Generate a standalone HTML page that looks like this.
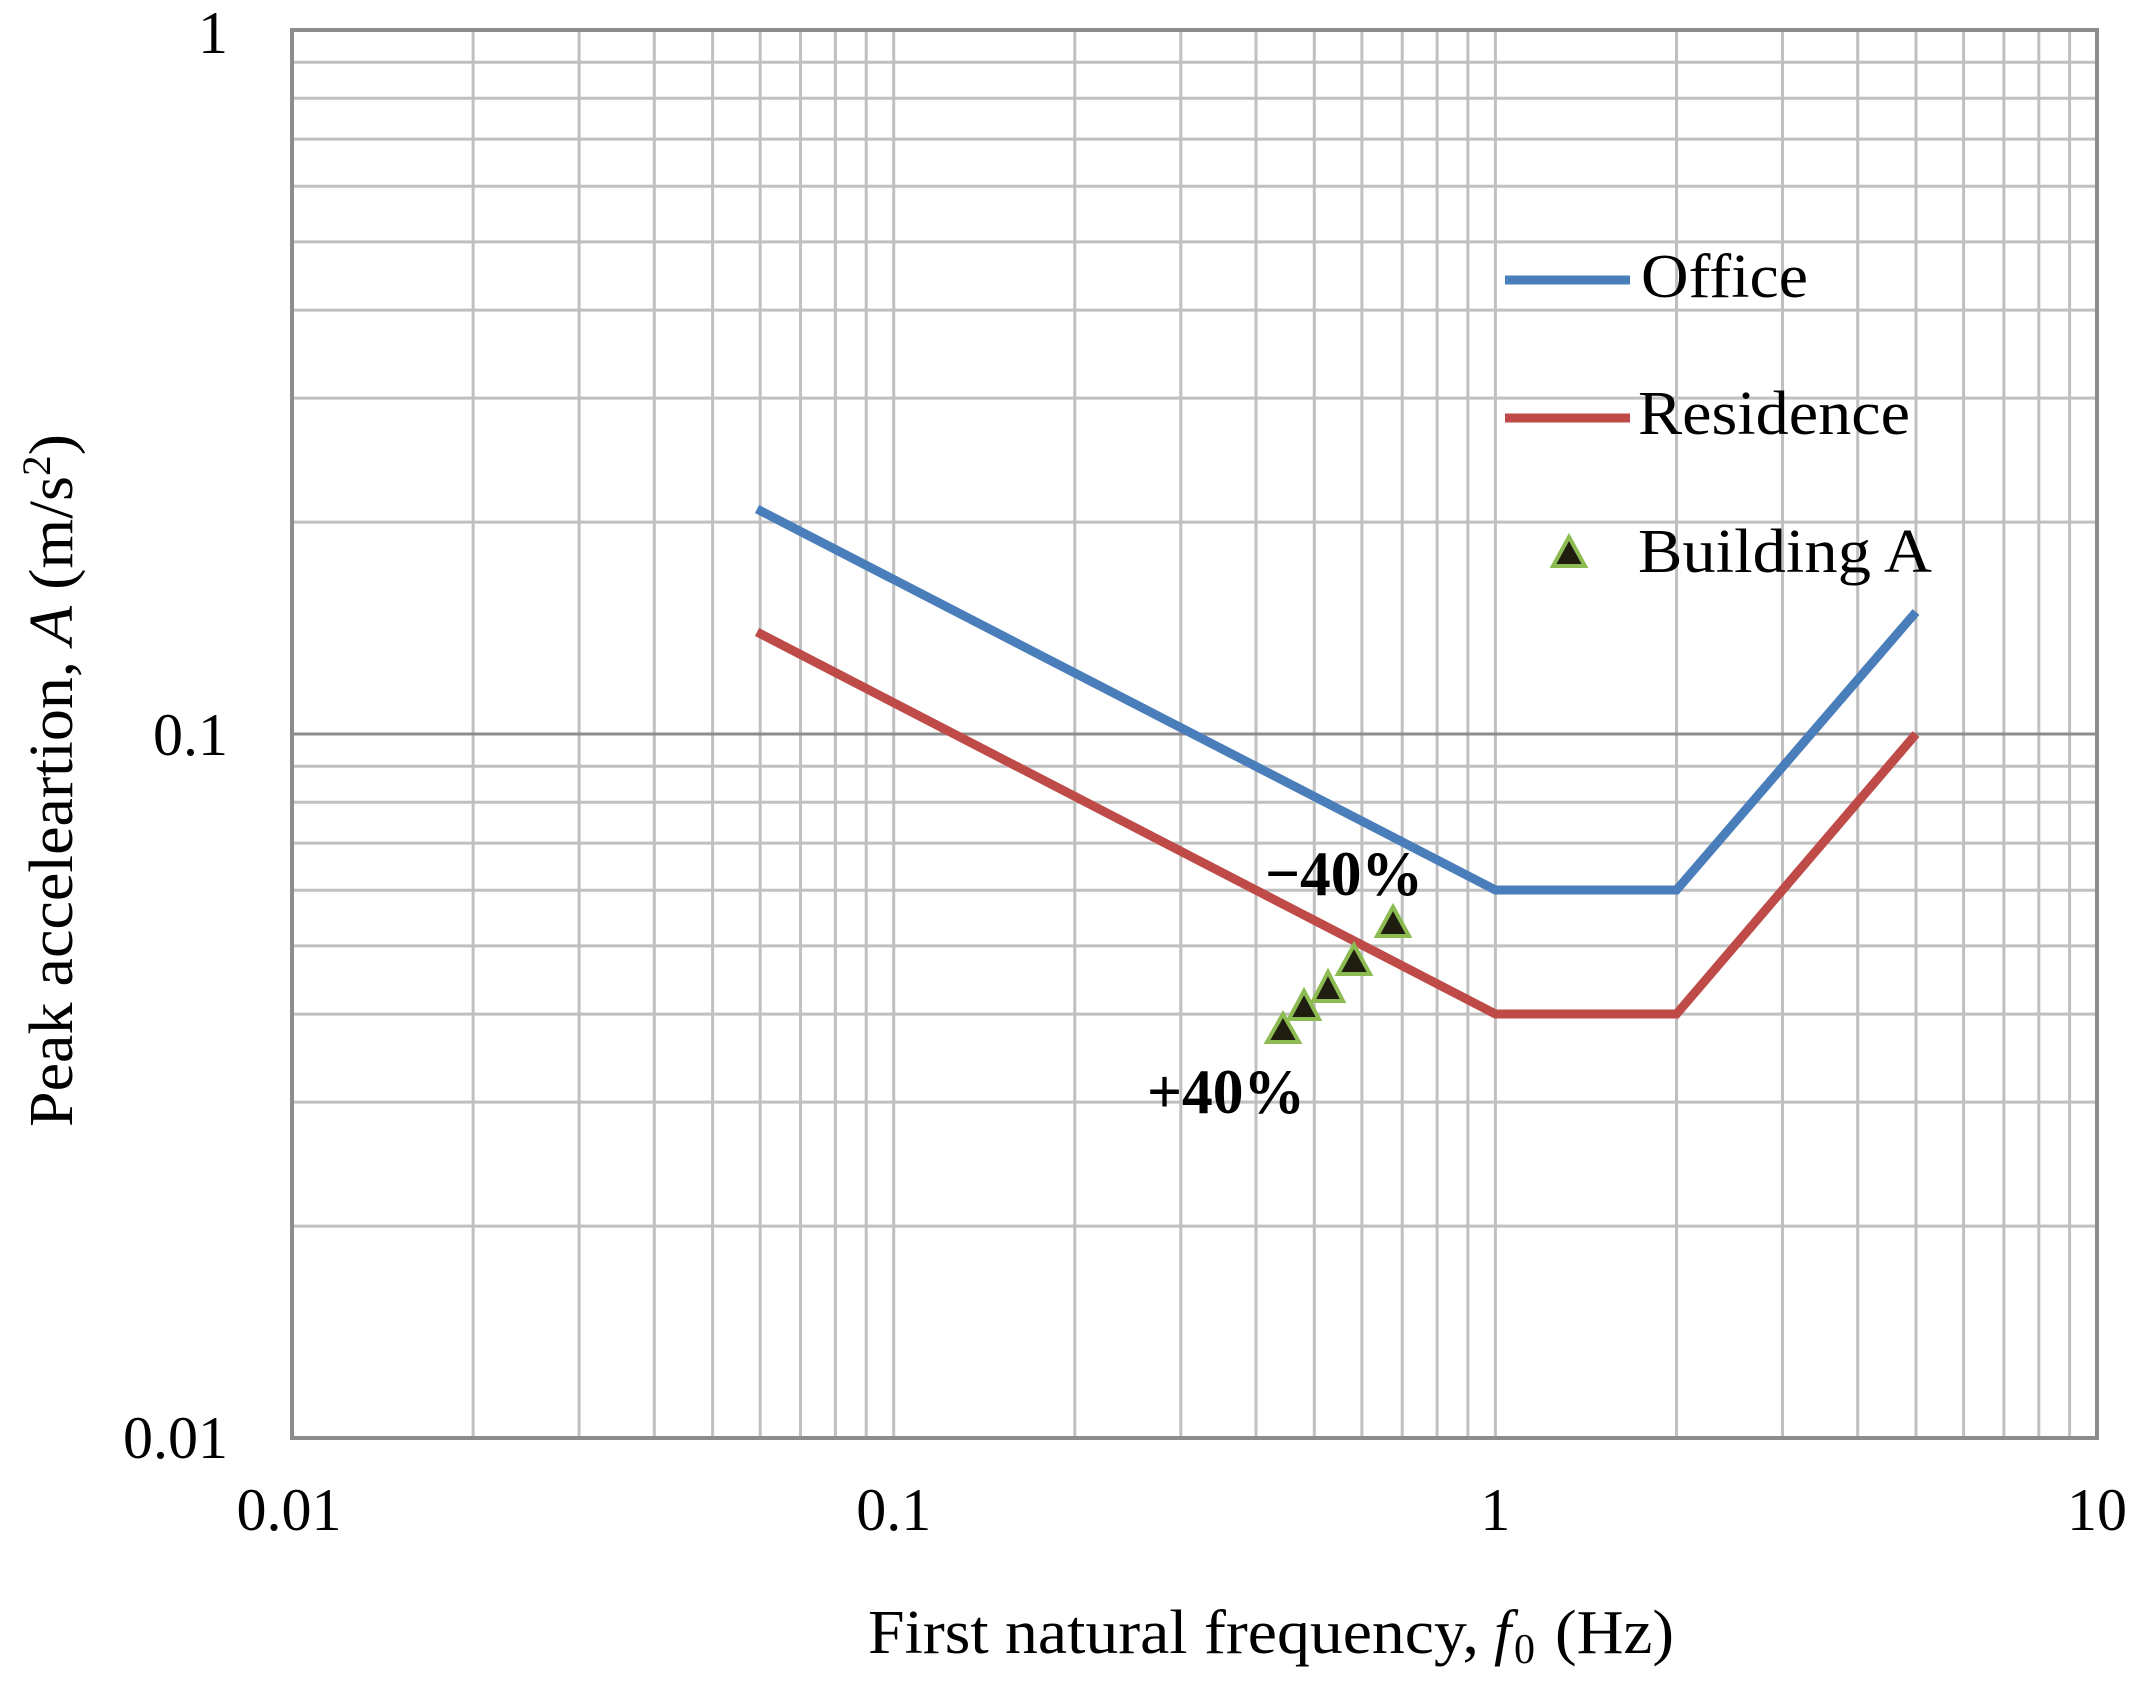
<!DOCTYPE html>
<html><head><meta charset="utf-8"><style>html,body{margin:0;padding:0;background:#fff}svg{display:block}</style></head>
<body>
<svg xmlns="http://www.w3.org/2000/svg" width="2139" height="1687" viewBox="0 0 2139 1687">
<rect width="2139" height="1687" fill="#fff"/>
<g stroke="#c0c0c0" stroke-width="3" fill="none">
<path d="M473.1 30V1438M579.1 30V1438M654.3 30V1438M712.6 30V1438M760.2 30V1438M800.5 30V1438M835.4 30V1438M866.2 30V1438M893.7 30V1438
M1074.8 30V1438M1180.8 30V1438M1256 30V1438M1314.3 30V1438M1361.9 30V1438M1402.2 30V1438M1437.1 30V1438M1467.9 30V1438M1495.4 30V1438
M1676.5 30V1438M1782.5 30V1438M1857.7 30V1438M1916 30V1438M1963.6 30V1438M2003.9 30V1438M2038.8 30V1438M2069.6 30V1438"/>
<path d="M292 1226.1H2097M292 1102.1H2097M292 1014.1H2097M292 945.9H2097M292 890.2H2097M292 843.1H2097M292 802.2H2097M292 766.2H2097
M292 522.1H2097M292 398.1H2097M292 310.1H2097M292 241.9H2097M292 186.2H2097M292 139.1H2097M292 98.2H2097M292 62.2H2097"/>
</g>
<path d="M292 734H2097" stroke="#8c8c8c" stroke-width="3"/>
<rect x="292" y="30" width="1805" height="1408" fill="none" stroke="#8c8c8c" stroke-width="4"/>
<polyline points="757,509 1495.4,890 1676.5,890 1916,612" fill="none" stroke="#4a7ebb" stroke-width="9" stroke-linejoin="miter"/>
<polyline points="757,632 1495.4,1014 1676.5,1014 1916,734" fill="none" stroke="#be4b48" stroke-width="9" stroke-linejoin="miter"/>
<g fill="#1f1c10" stroke="#8cbb52" stroke-width="4" stroke-linejoin="miter">
<path d="M1393 907L1409 936H1377Z"/>
<path d="M1354 945L1370 974H1338Z"/>
<path d="M1328 972L1343 1001H1313Z"/>
<path d="M1304 991L1319 1019H1289Z"/>
<path d="M1283 1014L1299 1042H1267Z"/>
<path d="M1569 537L1585 566H1553Z"/>
</g>
<g font-family="Liberation Serif, serif" fill="#000">
<text x="228" y="53" font-size="60" text-anchor="end">1</text>
<text x="228" y="755" font-size="60" text-anchor="end">0.1</text>
<text x="228" y="1458" font-size="60" text-anchor="end">0.01</text>
<text x="289" y="1530" font-size="60" text-anchor="middle">0.01</text>
<text x="893.7" y="1530" font-size="60" text-anchor="middle">0.1</text>
<text x="1495.4" y="1530" font-size="60" text-anchor="middle">1</text>
<text x="2097" y="1530" font-size="60" text-anchor="middle">10</text>
<text x="868" y="1653" font-size="62" textLength="611" lengthAdjust="spacingAndGlyphs">First natural frequency,</text>
<text x="1494" y="1653" font-size="62" font-style="italic">f</text>
<text x="1514" y="1663" font-size="42">0</text>
<text x="1555" y="1653" font-size="62" textLength="119" lengthAdjust="spacingAndGlyphs">(Hz)</text>
<text transform="translate(72,1127) rotate(-90)" font-size="62" textLength="693" lengthAdjust="spacingAndGlyphs">Peak acceleartion, <tspan font-style="italic">A</tspan> (m/s<tspan font-size="40" dy="-22">2</tspan><tspan dy="22">)</tspan></text>
<text x="1641" y="297" font-size="62" textLength="167" lengthAdjust="spacingAndGlyphs">Office</text>
<text x="1638" y="434" font-size="62" textLength="272" lengthAdjust="spacingAndGlyphs">Residence</text>
<text x="1638" y="572" font-size="62" textLength="294" lengthAdjust="spacingAndGlyphs">Building A</text>
<text x="1265" y="895" font-size="64" font-weight="bold" textLength="158" lengthAdjust="spacingAndGlyphs">−40%</text>
<text x="1147" y="1113" font-size="64" font-weight="bold" textLength="158" lengthAdjust="spacingAndGlyphs">+40%</text>
</g>
<path d="M1505 280H1630" stroke="#4a7ebb" stroke-width="9"/>
<path d="M1505 418H1630" stroke="#be4b48" stroke-width="9"/>
</svg>
</body></html>
